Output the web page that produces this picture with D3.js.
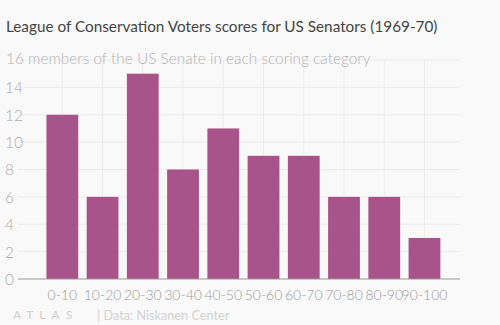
<!DOCTYPE html>
<html>
<head>
<meta charset="utf-8">
<script src="https://cdn.jsdelivr.net/npm/d3@7"></script>
<style>
  body { margin: 0; background: #f9f9f9; }
  svg { display: block; }
</style>
</head>
<body>
<svg id="chart" width="500" height="325"></svg>
<script>
// data
const categories = ["0-10", "10-20", "20-30", "30-40", "40-50", "50-60", "60-70", "70-80", "80-90", "90-100"];
const members = [12, 6, 15, 8, 11, 9, 9, 6, 6, 3];
const yTicks = [0, 2, 4, 6, 8, 10, 12, 14, 16];

const svg = d3.select("#chart");
const font = "Lato, 'Open Sans', sans-serif";

svg.append("rect").attr("width", 500).attr("height", 325).attr("fill", "#f9f9f9");

// scales
const x = d3.scaleBand().domain(categories).range([42.4, 444.4]).paddingInner(0.21).paddingOuter(0.1);
const y = d3.scaleLinear().domain([0, 16]).range([279, 60]);

// gridlines
svg.append("g")
  .selectAll("line.h")
  .data(yTicks.slice(1))
  .enter()
  .append("line")
  .attr("x1", 18).attr("x2", 460)
  .attr("y1", d => y(d)).attr("y2", d => y(d))
  .attr("stroke", "#ececec");

svg.append("g")
  .selectAll("line.v")
  .data(categories)
  .enter()
  .append("line")
  .attr("x1", d => x(d) + x.bandwidth() / 2)
  .attr("x2", d => x(d) + x.bandwidth() / 2)
  .attr("y1", y(16)).attr("y2", y(0))
  .attr("stroke", "#ececec");

// bars
svg.append("g")
  .selectAll("rect")
  .data(members)
  .enter()
  .append("rect")
  .attr("x", (d, i) => x(categories[i]))
  .attr("y", d => y(d))
  .attr("width", x.bandwidth())
  .attr("height", d => y(0) - y(d))
  .attr("fill", "#a8538a");

// baseline
svg.append("line")
  .attr("x1", 18).attr("x2", 460)
  .attr("y1", y(0)).attr("y2", y(0))
  .attr("stroke", "#999").attr("stroke-width", 1);

// y axis labels
const yAxis = d3.axisLeft(y).tickValues(yTicks.slice(0, -1)).tickSize(0).tickPadding(0);
const gy = svg.append("g").attr("transform", "translate(5,0)").call(yAxis);
gy.select(".domain").remove();
gy.selectAll("text")
  .attr("text-anchor", "start")
  .attr("dy", "0.35em")
  .attr("x", 0)
  .style("font-family", font)
  .style("font-size", "15.5px")
  .style("font-weight", 300)
  .attr("fill", "#aaa");

// x axis labels
const xAxis = d3.axisBottom(x).tickSize(0).tickPadding(0);
const gx = svg.append("g").attr("transform", "translate(0,290)").call(xAxis);
gx.select(".domain").remove();
gx.selectAll("text")
  .style("font-family", font)
  .style("font-size", "14px")
  .style("font-weight", 300)
  .attr("dy", "0.71em")
  .attr("fill", "#999");

// title + subtitle
svg.append("text")
  .attr("x", 6).attr("y", 32)
  .text("League of Conservation Voters scores for US Senators (1969-70)")
  .style("font-family", font)
  .style("font-size", "15.3px")
  .attr("fill", "#444");

// subtitle sits on top of the 16 tick, like the original
svg.append("text")
  .attr("x", 6).attr("y", 64)
  .text("16 members of the US Senate in each scoring category")
  .style("font-family", font)
  .style("font-size", "15.4px")
  .style("font-weight", 300)
  .attr("fill", "#b3b3b3");

// footer
svg.append("text")
  .attr("x", 13).attr("y", 319)
  .text("ATLAS")
  .style("font-family", font)
  .style("font-size", "12px")
  .style("letter-spacing", "6px")
  .attr("fill", "#d0d0d0");

svg.append("text")
  .attr("x", 97).attr("y", 320)
  .text("| Data: Niskanen Center")
  .style("font-family", font)
  .style("font-size", "12.7px")
  .attr("fill", "#d3d3d3");
</script>
</body>
</html>
